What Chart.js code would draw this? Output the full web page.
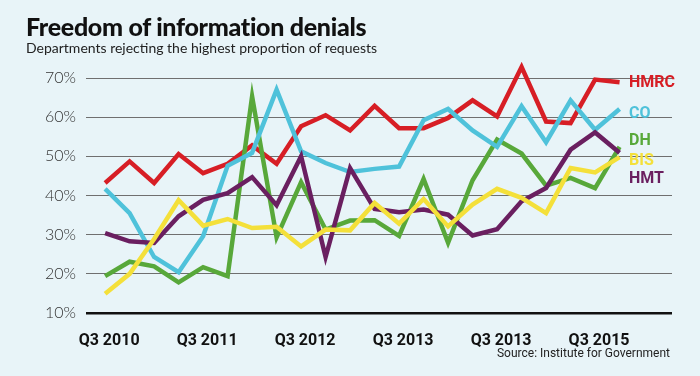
<!DOCTYPE html>
<html>
<head>
<meta charset="utf-8">
<script src="https://cdn.jsdelivr.net/npm/chart.js@4"></script>
<style>
html,body{margin:0;padding:0;background:#e8f4f8;}
#wrap{position:relative;width:700px;height:376px;overflow:hidden;}
#chart{position:absolute;left:0;top:0;}
.title{position:absolute;left:26px;top:11px;font-family:Lato,sans-serif;font-weight:900;font-size:25px;color:#111;letter-spacing:-0.3px;}
.sub{position:absolute;left:26px;top:39px;font-family:Lato,sans-serif;font-size:14px;color:#222;}
.src{position:absolute;right:30px;top:346px;font-family:Roboto,sans-serif;font-size:12px;color:#222;}
</style>
</head>
<body>
<div id="wrap">
<canvas id="chart" width="700" height="376"></canvas>
<div class="title">Freedom of information denials</div>
<div class="sub">Departments rejecting the highest proportion of requests</div>
<div class="src">Source: Institute for Government</div>
</div>
<script>
// quarters Q3 2010 .. Q4 2015, tick every 4th
const tickLabels=["Q3 2010","Q3 2011","Q3 2012","Q3 2013","Q3 2013","Q3 2015"];
const hmrc=[43.2,48.7,43.2,50.6,45.7,48.1,52.8,48.1,57.7,60.5,56.6,62.9,57.2,57.2,59.8,64.3,60.2,72.8,58.9,58.5,69.6,68.9];
const co=[41.7,35.5,24.3,20.4,29.6,47.6,50.9,67,51.3,48.3,46,46.8,47.4,59.2,62.1,56.6,52.4,62.8,53.6,64.3,56.8,62.1];
const dh=[19.4,23.1,21.9,17.8,21.7,19.4,65.3,29.3,43.4,31.3,33.6,33.7,29.7,44.2,27.9,43.9,54.3,50.7,42.5,44.5,41.9,52.4];
const bis=[14.9,20,28.9,38.8,32.3,34,31.7,32,27,31.3,31.1,38.1,32.8,39.1,32.1,37.7,41.7,39.4,35.5,47,45.9,49.8];
const hmt=[30.4,28.3,27.9,34.7,38.9,40.6,44.7,37.5,50,24.3,47,36.6,35.7,36.4,35.1,29.8,31.4,38.5,41.9,51.7,56.1,50.9];

const series=[
{name:"BIS",data:bis,color:"#f4e03a",labelAt:48.9},
{name:"HMT",data:hmt,color:"#6a1f60",labelAt:44.3},
{name:"CO",data:co,color:"#4fc2da",labelAt:60.9},
{name:"DH",data:dh,color:"#58a83a",labelAt:54.0},
{name:"HMRC",data:hmrc,color:"#d71e25",labelAt:68.8}
];

const endLabels={
id:"endLabels",
afterDraw(chart){
const ctx=chart.ctx;
const y=chart.scales.y;
ctx.save();
ctx.font="bold 16px Roboto";
ctx.textBaseline="middle";
series.forEach(s=>{
ctx.fillStyle=s.color;
ctx.fillText(s.name,629,y.getPixelForValue(s.labelAt));
});
ctx.restore();
}
};

new Chart(document.getElementById("chart"),{
type:"line",
data:{
datasets:series.map(s=>({
label:s.name,
data:s.data.map((v,i)=>({x:i,y:v})),
borderColor:s.color,
borderWidth:4.5,
borderJoinStyle:"miter",
pointRadius:0,
tension:0,
clip:false
}))
},
options:{
responsive:false,
animation:false,
layout:{padding:{left:0,right:28,top:78,bottom:23}},
plugins:{legend:{display:false},tooltip:{enabled:false}},
scales:{
x:{
type:"linear",
min:-0.78,max:23.14,
grid:{display:false},
border:{display:false},
afterBuildTicks(scale){scale.ticks=tickLabels.map((t,i)=>({value:i*4}));},
afterFit(scale){scale.height=40;},
ticks:{
autoSkip:false,maxRotation:0,padding:10,labelOffset:4,
color:"#111",
font:{family:"Roboto",weight:"bold",size:16},
callback:(v)=>tickLabels[v/4]
}
},
y:{
min:10,max:70,
afterFit(scale){scale.width=86;},
border:{display:false},
grid:{
drawTicks:false,
color:c=>c.tick.value===10?"#111":"#6f6f6f",
lineWidth:c=>c.tick.value===10?2.5:1
},
ticks:{
stepSize:10,padding:10,
color:"#333",
font:{family:"Lato",weight:300,size:16},
callback:v=>v+"%"
}
}
}
},
plugins:[endLabels]
});
</script>
</body>
</html>
